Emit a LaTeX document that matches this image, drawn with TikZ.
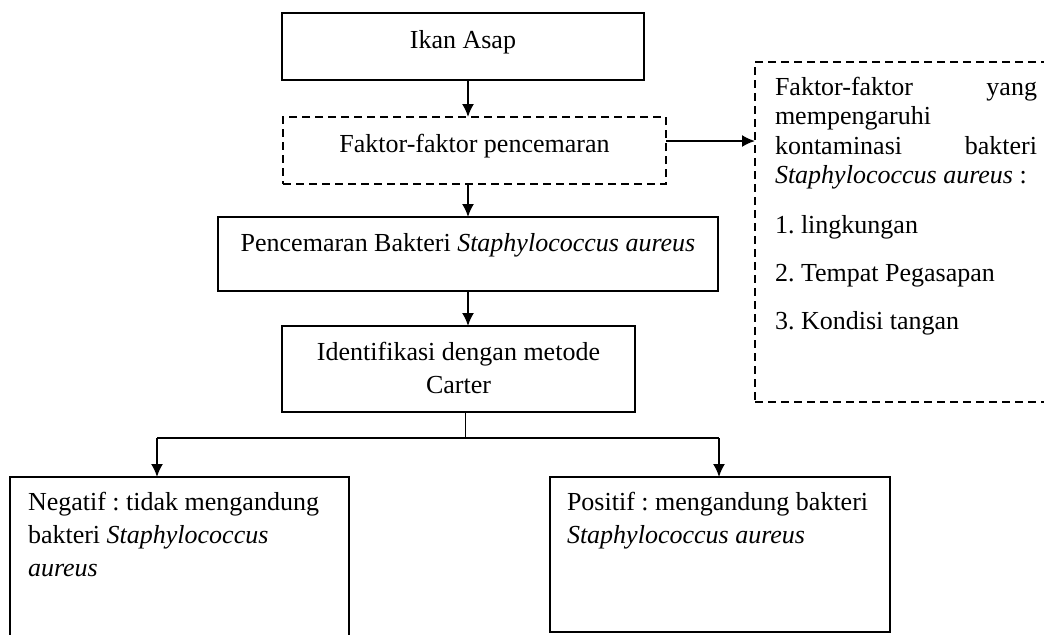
\documentclass[tikz,border=0pt]{standalone}
\usepackage{fontspec}
\setmainfont{Liberation Serif}
\usetikzlibrary{arrows.meta}
\frenchspacing

\newcommand{\topstrut}{\rule{0pt}{10pt}}
% width, height, top gap, text
\newcommand{\cell}[4]{\parbox[c][#2][t]{#1}{\vspace*{#3}#4}}

\tikzset{
	flowbox/.style={draw, line width=0.9pt, inner sep=0pt, outer sep=0pt,
		font=\fontsize{13}{16.5}\selectfont},
	dashbox/.style={flowbox, line width=0.7pt, dash pattern=on 4pt off 2.5pt},
	link/.style={line width=0.9pt, -{Latex[length=6.5pt,width=6pt]}},
}

\begin{document}
\begin{tikzpicture}[x=0.5pt,y=-0.5pt]
		\useasboundingbox (0,0) rectangle (1044,634);
		
		\node[flowbox] (ikan) at (463,46.5) {\cell{181pt}{33.5pt}{7.5pt}{\centering\topstrut Ikan Asap}};
		\node[dashbox] (faktor) at (474.5,150.5) {\cell{191.5pt}{33.5pt}{7.5pt}{\centering\topstrut Faktor-faktor pencemaran}};
		\node[flowbox] (pencemaran) at (468,254) {\cell{250pt}{37pt}{7pt}{\centering\topstrut Pencemaran Bakteri \textit{Staphylococcus aureus}}};
		\node[flowbox] (identifikasi) at (458.5,369) {\cell{176.5pt}{43pt}{7pt}{\centering\topstrut Identifikasi dengan metode\\ Carter}};
		
		\node[flowbox, inner xsep=9pt] (negatif) at (179.5,563.5) {\cell{151.5pt}{86.5pt}{6.5pt}{\topstrut Negatif : tidak mengandung\\ bakteri \textit{Staphylococcus}\\ \textit{aureus}}};
		\node[flowbox, inner xsep=8.5pt] (positif) at (720,554.5) {\cell{153pt}{77.5pt}{6.5pt}{\topstrut Positif : mengandung bakteri\\ \textit{Staphylococcus aureus}}};
		
		\node[dashbox, inner xsep=10pt] (sumber) at (912.5,232) {\cell{137.5pt}{170pt}{6.5pt}{\parbox[t]{131pt}{\fontsize{13}{14.5}\selectfont
			\topstrut Faktor-faktor\hfill yang\\
			mempengaruhi\\[0.8pt]
			kontaminasi\hfill bakteri\\
			\textit{Staphylococcus aureus} :\\[10.5pt]
			1. lingkungan\\[9.5pt]
			2. Tempat Pegasapan\\[9.5pt]
			3. Kondisi tangan}}};
		
		\coordinate (fork) at (465,438);
		\coordinate (forkL) at (157,438);
		\coordinate (forkR) at (719,438);
		
		\draw[link] (ikan.south -| pencemaran) -- (faktor.north -| pencemaran);
		\draw[link] (faktor.south -| pencemaran) -- (pencemaran.north);
		\draw[link] (pencemaran.south) -- (identifikasi.north -| pencemaran);
		\draw[link] ([yshift=4.75pt]faktor.east) -- ([yshift=4.75pt]faktor.east -| sumber.west);
		
		\draw[line width=0.5pt] (identifikasi.south -| fork) -- (fork);
		\draw[line width=1.4pt] (forkL) -- (forkR);
		\draw[link] (forkL) -- (forkL |- negatif.north);
		\draw[link] (forkR) -- (forkR |- positif.north);
	\end{tikzpicture}
\end{document}
